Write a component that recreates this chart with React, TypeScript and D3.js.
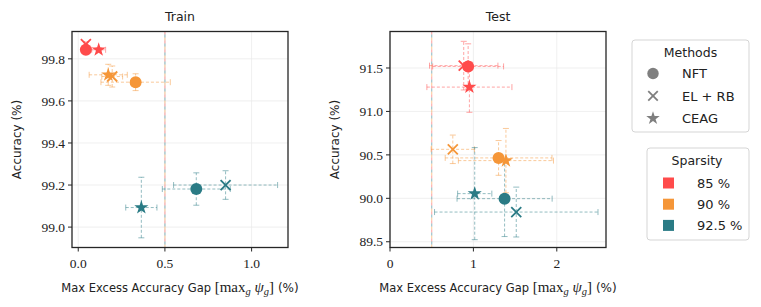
import React from "react";
import * as d3 from "d3";

const methods = ["NFT", "EL + RB", "CEAG"];
const sparsities = ["85 %", "90 %", "92.5 %"];
const colors = ["#FF4B4B", "#F59638", "#2A7B85"];

const trainSparsity = [0, 0, 0, 1, 1, 1, 2, 2, 2];
const trainMethod = [0, 1, 2, 0, 1, 2, 0, 1, 2];
const trainX = [0.044, 0.044, 0.118, 0.331, 0.196, 0.173, 0.681, 0.85, 0.364];
const trainXErr = [0.01, 0.01, 0.04, 0.2, 0.06, 0.11, 0.196, 0.3, 0.09];
const trainY = [99.843, 99.87, 99.843, 99.689, 99.716, 99.724, 99.181, 99.2, 99.093];
const trainYErr = [0.01, 0.01, 0.01, 0.04, 0.05, 0.05, 0.077, 0.068, 0.144];

const testSparsity = [0, 0, 0, 1, 1, 1, 2, 2, 2];
const testMethod = [0, 1, 2, 0, 1, 2, 0, 1, 2];
const testX = [0.937, 0.884, 0.952, 1.302, 0.753, 1.39, 1.374, 1.514, 1.016];
const testXErr = [0.425, 0.41, 0.51, 0.64, 0.26, 0.57, 0.57, 0.98, 0.205];
const testY = [91.518, 91.527, 91.28, 90.465, 90.564, 90.434, 89.996, 89.842, 90.054];
const testYErr = [0.26, 0.28, 0.29, 0.2, 0.164, 0.37, 0.436, 0.287, 0.53];

const threshold = 0.5;
const trainXTicks = [0, 0.5, 1.0];
const trainYTicks = [99.0, 99.2, 99.4, 99.6, 99.8];
const testXTicks = [0, 1, 2];
const testYTicks = [89.5, 90.0, 90.5, 91.0, 91.5];

const SANS = "'DejaVu Sans', sans-serif";
const SERIF = "'Liberation Serif', 'Times New Roman', 'DejaVu Serif', serif";

function Marker({ m, x, y, color, scale = 1 }: any) {
  if (m === 0) return <circle cx={x} cy={y} r={6 * scale} fill={color} />;
  if (m === 1) {
    const h = 5 * scale;
    return (
      <g stroke={color} strokeWidth={1.8}>
        <line x1={x - h} y1={y - h} x2={x + h} y2={y + h} />
        <line x1={x - h} y1={y + h} x2={x + h} y2={y - h} />
      </g>
    );
  }
  const p = d3.symbol().type(d3.symbolStar).size(62 * scale * scale)();
  return <path d={p || ""} transform={`translate(${x},${y})`} fill={color} />;
}

function Panel(props: any) {
  const { left, right, top, bottom, xDomain, yDomain, xTicks, yTicks, fmtX, fmtY, title,
    sp, me, xs, xe, ys, ye } = props;
  const xS = d3.scaleLinear().domain(xDomain).range([left, right]);
  const yS = d3.scaleLinear().domain(yDomain).range([bottom, top]);
  const cap = 3;
  const idx = d3.range(xs.length);
  const clipId = "clip" + title;
  return (
    <g>
      <defs>
        <clipPath id={clipId}>
          <rect x={left} y={top} width={right - left} height={bottom - top} />
        </clipPath>
      </defs>
      {xTicks.map((t: number, i: number) => (
        <line key={"gx" + i} x1={xS(t)} x2={xS(t)} y1={top} y2={bottom} stroke="#ebebeb" strokeWidth={0.8} />
      ))}
      {yTicks.map((t: number, i: number) => (
        <line key={"gy" + i} x1={left} x2={right} y1={yS(t)} y2={yS(t)} stroke="#ebebeb" strokeWidth={0.8} />
      ))}
      <g clipPath={`url(#${clipId})`}>
        {colors.map((c, i) => (
          <line key={"th" + i} x1={xS(threshold)} x2={xS(threshold)} y1={top} y2={bottom}
            stroke={c} strokeOpacity={0.45} strokeWidth={1.2} strokeDasharray="3,6" strokeDashoffset={i * 3} />
        ))}
        {idx.map((i: number) => {
          const c = colors[sp[i]];
          const cx = xS(xs[i]);
          const cy = yS(ys[i]);
          const x0 = xS(xs[i] - xe[i]);
          const x1 = xS(xs[i] + xe[i]);
          const y0 = yS(ys[i] - ye[i]);
          const y1 = yS(ys[i] + ye[i]);
          return (
            <g key={"e" + i} stroke={c} strokeOpacity={0.5} strokeWidth={1} fill="none">
              <line x1={x0} x2={x1} y1={cy} y2={cy} strokeDasharray="3,2" />
              <line x1={cx} x2={cx} y1={y0} y2={y1} strokeDasharray="3,2" />
              <line x1={x0} x2={x0} y1={cy - cap} y2={cy + cap} />
              <line x1={x1} x2={x1} y1={cy - cap} y2={cy + cap} />
              <line x1={cx - cap} x2={cx + cap} y1={y0} y2={y0} />
              <line x1={cx - cap} x2={cx + cap} y1={y1} y2={y1} />
            </g>
          );
        })}
        {idx.map((i: number) => (
          <Marker key={"m" + i} m={me[i]} x={xS(xs[i])} y={yS(ys[i])} color={colors[sp[i]]} />
        ))}
      </g>
      <rect x={left} y={top} width={right - left} height={bottom - top} fill="none" stroke="#262626" strokeWidth={1.3} />
      {xTicks.map((t: number, i: number) => (
        <g key={"tx" + i}>
          <line x1={xS(t)} x2={xS(t)} y1={bottom} y2={bottom + 4} stroke="#262626" strokeWidth={1} />
          <text x={xS(t)} y={bottom + 20} textAnchor="middle" fontFamily={SERIF} fontSize={13.5} fill="#222">{fmtX(t)}</text>
        </g>
      ))}
      {yTicks.map((t: number, i: number) => (
        <g key={"ty" + i}>
          <line x1={left - 4} x2={left} y1={yS(t)} y2={yS(t)} stroke="#262626" strokeWidth={1} />
          <text x={left - 7} y={yS(t)} dy="0.35em" textAnchor="end" fontFamily={SERIF} fontSize={13.5} fill="#222">{fmtY(t)}</text>
        </g>
      ))}
      <text x={(left + right) / 2} y={21} textAnchor="middle" fontFamily={SANS} fontSize={12.5} fill="#222">{title}</text>
      <text transform={`translate(${left - 51},${(top + bottom) / 2}) rotate(-90)`} textAnchor="middle"
        fontFamily={SANS} fontSize={12} fill="#222">Accuracy (%)</text>
      <text x={(left + right) / 2} y={292} textAnchor="middle" fontFamily={SANS} fontSize={11.5} fill="#222">
        <tspan>Max Excess Accuracy Gap </tspan>
        <tspan fontFamily={SERIF} fontSize={15}>[max</tspan>
        <tspan fontFamily={SERIF} fontSize={10.5} fontStyle="italic" dy={3}>g</tspan>
        <tspan fontFamily={SERIF} fontSize={15} fontStyle="italic" dy={-3}> ψ</tspan>
        <tspan fontFamily={SERIF} fontSize={10.5} fontStyle="italic" dy={3}>g</tspan>
        <tspan fontFamily={SERIF} fontSize={15} dy={-3}>]</tspan>
        <tspan fontSize={12}> (%)</tspan>
      </text>
    </g>
  );
}

export default function App() {
  return (
    <svg width={761} height={307} style={{ display: "block", position: "absolute", left: 0, top: 0 }}>
      <rect width={761} height={307} fill="#fff" />
      <Panel left={72} right={288} top={31.5} bottom={247.5}
        xDomain={[-0.036, 1.21]} yDomain={[98.903, 99.93]}
        xTicks={trainXTicks} yTicks={trainYTicks}
        fmtX={(t: number) => t.toFixed(1)} fmtY={(t: number) => t.toFixed(1)} title="Train"
        sp={trainSparsity} me={trainMethod} xs={trainX} xe={trainXErr} ys={trainY} ye={trainYErr} />
      <Panel left={390} right={606} top={31.5} bottom={247.5}
        xDomain={[0.0, 2.59]} yDomain={[89.434, 91.92]}
        xTicks={testXTicks} yTicks={testYTicks}
        fmtX={(t: number) => String(t)} fmtY={(t: number) => t.toFixed(1)} title="Test"
        sp={testSparsity} me={testMethod} xs={testX} xe={testXErr} ys={testY} ye={testYErr} />
      <rect x={632} y={40} width={117} height={92} rx={3} fill="#fff" stroke="#d5d5d5" strokeWidth={1} />
      <text x={690.5} y={57} textAnchor="middle" fontFamily={SANS} fontSize={12.5} fill="#222">Methods</text>
      {methods.map((m, i) => (
        <g key={"lm" + i}>
          <Marker m={i} x={653} y={73.5 + i * 22.4} color="#7f7f7f" scale={0.95} />
          <text x={682} y={73.5 + i * 22.4} dy="0.36em" fontFamily={SANS} fontSize={13} fill="#222">{m}</text>
        </g>
      ))}
      <rect x={647} y={148} width={102} height={92} rx={3} fill="#fff" stroke="#d5d5d5" strokeWidth={1} />
      <text x={697} y={165} textAnchor="middle" fontFamily={SANS} fontSize={12.5} fill="#222">Sparsity</text>
      {sparsities.map((s, i) => (
        <g key={"ls" + i}>
          <rect x={663} y={177.5 + i * 21.2} width={11} height={11} fill={colors[i]} />
          <text x={697} y={183 + i * 21.2} dy="0.36em" fontFamily={SANS} fontSize={13} fill="#222">{s}</text>
        </g>
      ))}
    </svg>
  );
}
